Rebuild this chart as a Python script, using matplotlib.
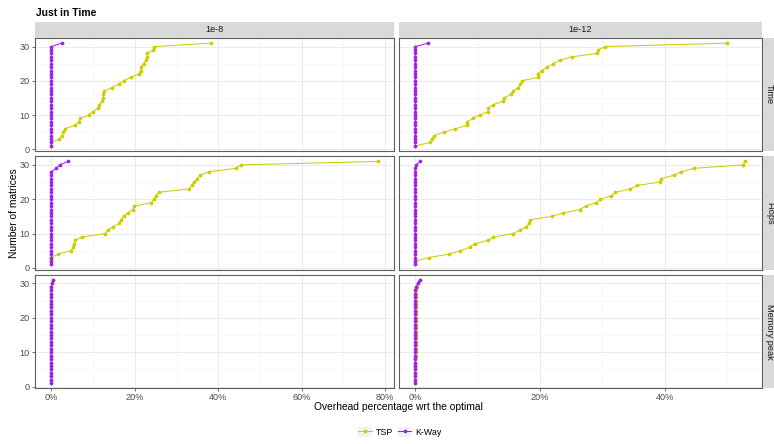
import numpy as np
import matplotlib
matplotlib.use("Agg")
from matplotlib import pyplot as plt
from matplotlib.patches import Rectangle
from matplotlib.lines import Line2D
from matplotlib.legend_handler import HandlerLine2D

plt.rcParams["font.family"] = ["Liberation Sans", "DejaVu Sans"]

# overhead (%) of each matrix, sorted; y is the running count of matrices
precisions = ["1e-8", "1e-12"]
metrics = ["Time", "Flops", "Memory peak"]
methods = ["TSP", "K-Way"]
colors = {"TSP": "#CDCD00", "K-Way": "#A020F0"}

tsp_time_1e8 = [0.0, 0.0, 1.9, 2.6, 2.8, 3.3, 5.6, 6.6, 6.8, 9.0, 9.9, 11.2, 11.5,
                12.1, 12.3, 12.5, 12.7, 14.5, 16.1, 17.3, 19.0, 21.0, 21.4, 21.6,
                22.1, 22.6, 22.9, 23.0, 24.4, 24.7, 38.2]
kway_time_1e8 = [0.0] * 30 + [2.5]

tsp_time_1e12 = [0.0, 2.4, 2.7, 2.95, 4.55, 6.4, 8.3, 8.3, 9.2, 10.3, 11.7, 11.7,
                 12.4, 14.0, 14.2, 15.3, 15.6, 16.5, 16.8, 17.1, 19.6, 19.6, 20.3,
                 21.1, 22.1, 23.2, 25.1, 29.1, 29.3, 30.5, 50.0]
kway_time_1e12 = [0.0] * 30 + [2.0]

tsp_flops_1e8 = [0.0, 0.0, 0.0, 1.6, 4.8, 5.2, 5.4, 5.7, 7.4, 12.9, 13.6, 14.8,
                 16.3, 16.7, 17.3, 18.3, 19.5, 19.9, 23.9, 24.7, 25.1, 25.7, 32.9,
                 33.7, 34.2, 34.9, 35.7, 37.7, 44.2, 45.4, 78.2]
kway_flops_1e8 = [0.0] * 28 + [1.2, 2.0, 4.0]

tsp_flops_1e12 = [0.0, 0.0, 2.1, 5.4, 7.2, 8.7, 9.5, 11.6, 12.5, 15.7, 16.8, 17.8,
                  18.3, 18.4, 21.9, 23.7, 26.4, 27.3, 29.0, 29.7, 31.4, 32.1, 34.5,
                  35.6, 39.2, 39.4, 41.5, 42.7, 44.7, 52.6, 52.9]
kway_flops_1e12 = [0.0] * 29 + [0.1, 0.75]

tsp_mem_1e8 = [0.0] * 29 + [0.2, 0.4]
kway_mem_1e8 = [0.0] * 29 + [0.2, 0.45]

tsp_mem_1e12 = [0.0] * 8 + [0.12] * 20 + [0.2, 0.4, 0.75]
kway_mem_1e12 = [0.0] * 28 + [0.1, 0.35, 0.65]

series = {
    ("Time", "1e-8"): (tsp_time_1e8, kway_time_1e8),
    ("Time", "1e-12"): (tsp_time_1e12, kway_time_1e12),
    ("Flops", "1e-8"): (tsp_flops_1e8, kway_flops_1e8),
    ("Flops", "1e-12"): (tsp_flops_1e12, kway_flops_1e12),
    ("Memory peak", "1e-8"): (tsp_mem_1e8, kway_mem_1e8),
    ("Memory peak", "1e-12"): (tsp_mem_1e12, kway_mem_1e12),
}

W, H = 774, 444
fig = plt.figure(figsize=(W / 100, H / 100), dpi=100)


def frac(x0, y0, x1, y1):
    return [x0 / W, 1 - y1 / H, (x1 - x0) / W, (y1 - y0) / H]


col_x = [(35, 394), (399, 761.5)]
row_y = [(38, 151), (156.3, 269.6), (274.8, 388.3)]

grey20 = "#333333"
tick_grey = "#4D4D4D"

for j, prec in enumerate(precisions):
    col_max = max(max(v) for m in metrics for v in series[(m, prec)])
    pad = col_max * 0.05
    xlim = (-pad, col_max + pad)
    for i, metric in enumerate(metrics):
        ax = fig.add_axes(frac(col_x[j][0], row_y[i][0], col_x[j][1], row_y[i][1]))
        for name, vals in zip(methods, series[(metric, prec)]):
            vals = np.sort(np.asarray(vals))
            rank = np.arange(1, len(vals) + 1)
            ax.plot(vals, rank, color=colors[name], lw=0.75, marker="o",
                    ms=2.7, mew=0, zorder=3)
        ax.set_xlim(xlim)
        ax.set_ylim(-0.5, 32.5)
        ax.set_xticks([t for t in range(0, 100, 20) if t <= xlim[1]])
        ax.set_xticks([t for t in range(10, 100, 20) if t <= xlim[1]], minor=True)
        ax.set_yticks([0, 10, 20, 30])
        ax.set_yticks([5, 15, 25], minor=True)
        ax.grid(which="major", color="#EBEBEB", lw=0.7, zorder=0)
        ax.grid(which="minor", color="#F2F2F2", lw=0.4, zorder=0)
        ax.set_axisbelow(True)
        for s in ax.spines.values():
            s.set_color("#5E5E5E")
            s.set_linewidth(0.8)
        ax.tick_params(which="major", length=2.2, width=0.5, color=grey20,
                       labelsize=6.6, labelcolor=tick_grey, pad=1.5)
        ax.tick_params(which="minor", length=0)
        ax.set_xticklabels([f"{t}%" for t in ax.get_xticks()])
        if i < len(metrics) - 1:
            ax.tick_params(axis="x", which="major", length=0, labelbottom=False)
        if j > 0:
            ax.tick_params(axis="y", which="major", length=0, labelleft=False)

        # row strips on the right
        if j == len(precisions) - 1:
            fig.add_artist(Rectangle((763 / W, 1 - row_y[i][1] / H), 14 / W,
                                     (row_y[i][1] - row_y[i][0]) / H,
                                     transform=fig.transFigure,
                                     facecolor="#D9D9D9", edgecolor="none"))
            fig.text(769.5 / W, 1 - (row_y[i][0] + row_y[i][1]) / 2 / H, metric,
                     rotation=270, ha="center", va="center", fontsize=6.6,
                     color="#1A1A1A")

    # column strips on top
    fig.add_artist(Rectangle((col_x[j][0] / W, 1 - 37.7 / H),
                             (col_x[j][1] - col_x[j][0]) / W, 15.2 / H,
                             transform=fig.transFigure,
                             facecolor="#D9D9D9", edgecolor="none"))
    fig.text((col_x[j][0] + col_x[j][1]) / 2 / W, 1 - 30 / H, prec,
             ha="center", va="center", fontsize=6.6, color="#1A1A1A")

fig.text(36 / W, 1 - 13 / H, "Just in Time", ha="left", va="center",
         fontsize=7.4, fontweight="bold")
fig.text(14 / W, 1 - 213 / H, "Number of matrices", rotation=90,
         ha="center", va="center", fontsize=7.4)
fig.text(398 / W, 1 - 407 / H, "Overhead percentage wrt the optimal",
         ha="center", va="center", fontsize=7.4)


class KeyHandler(HandlerLine2D):
    def create_artists(self, legend, orig_handle, xdescent, ydescent, width,
                       height, fontsize, trans):
        bg = Rectangle((-xdescent, -ydescent), width, height,
                       facecolor="#F2F2F2", edgecolor="none", transform=trans)
        arts = super().create_artists(legend, orig_handle, xdescent, ydescent,
                                      width, height, fontsize, trans)
        return [bg] + list(arts)


handles = [Line2D([], [], color=colors[m], lw=0.75, marker="o", ms=2.7, mew=0)
           for m in methods]
fig.legend(handles, methods, loc="center", bbox_to_anchor=(400 / W, 1 - 432 / H),
           ncol=2, frameon=False, fontsize=6.4, handlelength=1.5,
           handleheight=1.5, handletextpad=0.45, columnspacing=0.6,
           borderpad=0, handler_map={Line2D: KeyHandler(numpoints=1)})

fig.savefig("out.png", dpi=100)
